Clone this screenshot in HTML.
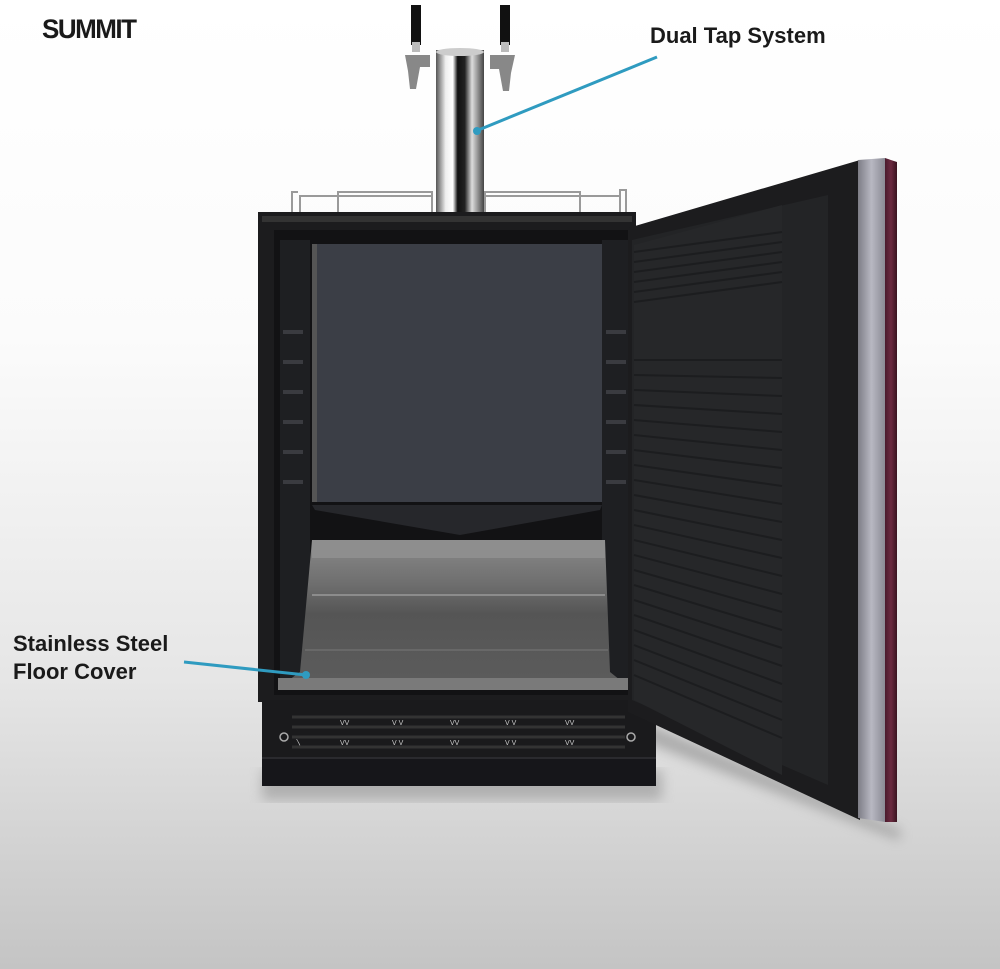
<!DOCTYPE html>
<html><head><style>
html,body{margin:0;padding:0;width:1000px;height:969px;overflow:hidden}
</style></head><body>
<svg width="1000" height="969" viewBox="0 0 1000 969" xmlns="http://www.w3.org/2000/svg">
<defs>
<linearGradient id="bg" x1="0" y1="0" x2="0" y2="1">
<stop offset="0" stop-color="#ffffff"/><stop offset="0.35" stop-color="#fbfbfb"/><stop offset="0.7" stop-color="#e6e6e6"/><stop offset="1" stop-color="#c4c4c4"/>
</linearGradient>
<linearGradient id="chrome" x1="0" y1="0" x2="1" y2="0">
<stop offset="0" stop-color="#555"/><stop offset="0.2" stop-color="#eee"/><stop offset="0.35" stop-color="#fff"/><stop offset="0.45" stop-color="#111"/><stop offset="0.6" stop-color="#222"/><stop offset="0.75" stop-color="#ddd"/><stop offset="1" stop-color="#444"/>
</linearGradient>
<linearGradient id="floor" x1="0" y1="0" x2="0" y2="1">
<stop offset="0" stop-color="#8a8a8a"/><stop offset="0.3" stop-color="#6e6e6e"/><stop offset="0.5" stop-color="#555"/><stop offset="1" stop-color="#5c5c5c"/>
</linearGradient>
<linearGradient id="steel" x1="0" y1="0" x2="1" y2="0">
<stop offset="0" stop-color="#7d7d86"/><stop offset="0.5" stop-color="#b8b8c2"/><stop offset="1" stop-color="#8a8a94"/>
</linearGradient>
<linearGradient id="purp" x1="0" y1="0" x2="1" y2="0">
<stop offset="0" stop-color="#4a1a2c"/><stop offset="0.5" stop-color="#6b2a40"/><stop offset="1" stop-color="#3a1420"/>
</linearGradient>
<filter id="sh"><feGaussianBlur stdDeviation="6"/></filter>
</defs>
<rect width="1000" height="969" fill="url(#bg)"/>
<rect x="262" y="770" width="400" height="30" fill="#888" opacity="0.5" filter="url(#sh)"/>
<polygon points="640,720 900,830 900,840 640,740" fill="#777" opacity="0.5" filter="url(#sh)"/>
<text x="42" y="38" font-family="Liberation Sans, sans-serif" font-weight="900" font-size="26" fill="#1a1a1a" letter-spacing="-1.5" transform="translate(42,38) scale(1,1.05) translate(-42,-38)">SUMMIT</text>
<g stroke="#9a9a9a" stroke-width="2" fill="none">
<path d="M292,212 V192 H298 M300,212 V196 H433 M338,212 V192 H432 V212"/>
<path d="M483,212 V196 H620 M485,212 V192 H580 V212 M620,212 V190 H626 V212"/>
</g>
<rect x="436" y="50" width="48" height="162" fill="url(#chrome)"/>
<ellipse cx="460" cy="52" rx="24" ry="4" fill="#ccc"/>
<rect x="411" y="5" width="10" height="40" fill="#111"/>
<rect x="412" y="42" width="8" height="10" fill="#bbb"/>
<path d="M405,55 h25 v12 h-10 l-4,22 h-6 l-2,-18 z" fill="#888"/>
<rect x="500" y="5" width="10" height="40" fill="#111"/>
<rect x="501" y="42" width="8" height="10" fill="#bbb"/>
<path d="M490,55 h25 l-4,18 -2,18 h-6 l-4,-22 h-9 z" fill="#888"/>
<rect x="258" y="212" width="378" height="490" fill="#1c1c1e"/>
<rect x="262" y="216" width="370" height="6" fill="#333"/>
<rect x="274" y="230" width="356" height="465" fill="#121214"/>
<rect x="280" y="240" width="30" height="440" fill="#1e1f22"/>
<rect x="602" y="240" width="28" height="440" fill="#1e1f22"/>
<g fill="#3a3b40">
<rect x="283" y="330" width="20" height="4"/><rect x="283" y="360" width="20" height="4"/><rect x="283" y="390" width="20" height="4"/><rect x="283" y="420" width="20" height="4"/><rect x="283" y="450" width="20" height="4"/><rect x="283" y="480" width="20" height="4"/>
<rect x="606" y="330" width="20" height="4"/><rect x="606" y="360" width="20" height="4"/><rect x="606" y="390" width="20" height="4"/><rect x="606" y="420" width="20" height="4"/><rect x="606" y="450" width="20" height="4"/><rect x="606" y="480" width="20" height="4"/>
</g>
<rect x="312" y="244" width="290" height="258" fill="#3b3e46"/>
<rect x="312" y="244" width="5" height="258" fill="#555"/>
<polygon points="312,505 602,505 600,510 460,535 315,510" fill="#26272b"/>
<polygon points="312,540 605,540 610,672 630,688 278,688 300,672" fill="url(#floor)"/>
<rect x="312" y="540" width="293" height="18" fill="#8e8e8e"/>
<line x1="312" y1="595" x2="605" y2="595" stroke="#999" stroke-width="1.5"/>
<line x1="305" y1="650" x2="608" y2="650" stroke="#777" stroke-width="1"/>
<rect x="278" y="678" width="352" height="12" fill="#7a7a7a"/>
<rect x="262" y="700" width="394" height="60" fill="#1a1a1c"/>
<g stroke="#333" stroke-width="3">
<line x1="292" y1="717" x2="625" y2="717"/><line x1="292" y1="727" x2="625" y2="727"/><line x1="292" y1="737" x2="625" y2="737"/><line x1="292" y1="747" x2="625" y2="747"/>
</g>
<g fill="#ccc" font-family="Liberation Sans, sans-serif" font-size="7">
<text x="295" y="745">〵</text><text x="340" y="725">VV</text><text x="340" y="745">VV</text><text x="392" y="725">V V</text><text x="392" y="745">V V</text><text x="450" y="725">VV</text><text x="450" y="745">VV</text><text x="505" y="725">V V</text><text x="505" y="745">V V</text><text x="565" y="725">VV</text><text x="565" y="745">VV</text>
</g>
<circle cx="284" cy="737" r="4" fill="none" stroke="#aaa" stroke-width="1.5"/>
<circle cx="631" cy="737" r="4" fill="none" stroke="#aaa" stroke-width="1.5"/>
<rect x="262" y="758" width="394" height="28" fill="#16161a"/>
<rect x="262" y="757" width="394" height="2" fill="#2a2a2e"/>
<polygon points="628,228 860,160 860,820 628,712" fill="#1c1c1e"/>
<polygon points="632,240 828,195 828,785 632,700" fill="#232426"/>
<polygon points="634,245 782,205 782,775 634,700" fill="#262729"/>
<g stroke="#1c1d1f" stroke-width="2">
<line x1="634" y1="252" x2="782" y2="232"/><line x1="634" y1="262" x2="782" y2="242"/><line x1="634" y1="272" x2="782" y2="252"/><line x1="634" y1="282" x2="782" y2="262"/><line x1="634" y1="292" x2="782" y2="272"/><line x1="634" y1="302" x2="782" y2="282"/>
<line x1="634" y1="360" x2="782" y2="360"/><line x1="634" y1="375" x2="782" y2="378"/><line x1="634" y1="390" x2="782" y2="396"/><line x1="634" y1="405" x2="782" y2="414"/><line x1="634" y1="420" x2="782" y2="432"/><line x1="634" y1="435" x2="782" y2="450"/><line x1="634" y1="450" x2="782" y2="468"/><line x1="634" y1="465" x2="782" y2="486"/><line x1="634" y1="480" x2="782" y2="504"/><line x1="634" y1="495" x2="782" y2="522"/><line x1="634" y1="510" x2="782" y2="540"/><line x1="634" y1="525" x2="782" y2="558"/><line x1="634" y1="540" x2="782" y2="576"/><line x1="634" y1="555" x2="782" y2="594"/><line x1="634" y1="570" x2="782" y2="612"/><line x1="634" y1="585" x2="782" y2="630"/><line x1="634" y1="600" x2="782" y2="648"/><line x1="634" y1="615" x2="782" y2="666"/><line x1="634" y1="630" x2="782" y2="684"/><line x1="634" y1="645" x2="782" y2="702"/><line x1="634" y1="660" x2="782" y2="720"/><line x1="634" y1="675" x2="782" y2="738"/>
</g>
<polygon points="858,160 885,158 885,822 858,818" fill="url(#steel)"/>
<polygon points="885,158 897,162 897,822 885,822" fill="url(#purp)"/>
<line x1="476" y1="131" x2="657" y2="57" stroke="#2f9bc0" stroke-width="3"/>
<circle cx="477" cy="131" r="4" fill="#2f9bc0"/>
<text x="650" y="43" font-family="Liberation Sans, sans-serif" font-weight="bold" font-size="22" fill="#1a1a1a">Dual Tap System</text>
<line x1="184" y1="662" x2="306" y2="675" stroke="#2f9bc0" stroke-width="3"/>
<circle cx="306" cy="675" r="4" fill="#2f9bc0"/>
<text x="13" y="651" font-family="Liberation Sans, sans-serif" font-weight="bold" font-size="22" fill="#1a1a1a">Stainless Steel</text>
<text x="13" y="679" font-family="Liberation Sans, sans-serif" font-weight="bold" font-size="22" fill="#1a1a1a">Floor Cover</text>
</svg>
</body></html>
